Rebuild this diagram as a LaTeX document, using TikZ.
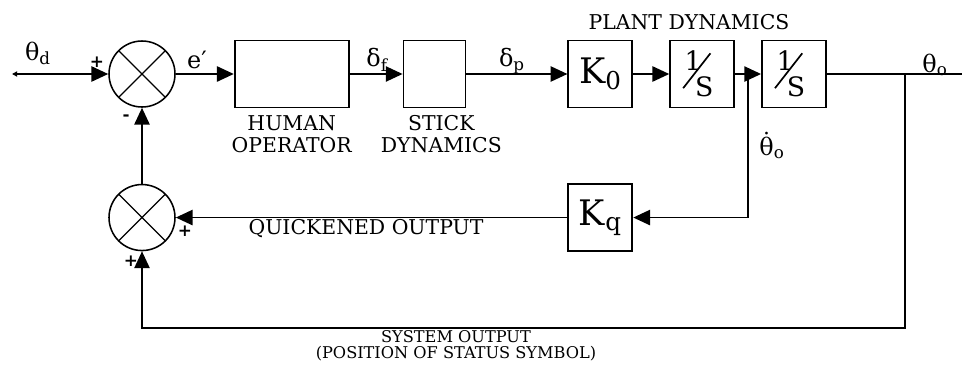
\documentclass[tikz,border=0pt]{standalone}
\usepackage{fontspec}
\setmainfont{DejaVu Serif}
\usetikzlibrary{calc, arrows.meta, positioning}

% 1/S with a long slash
\newcommand{\intS}{\rlap{\rotatebox{52}{\rule{31.5pt}{1.2pt}}}%
  \rlap{\kern1.6pt\raisebox{12.8pt}{1}}%
  \rlap{\kern9pt\raisebox{-5.7pt}{S}}\kern28pt}
\newcommand{\thdot}{\ooalign{θ\cr\hidewidth\raisebox{0.22em}{˙}\hidewidth\cr}}

\tikzset{
  block/.style={draw, line width=1.3pt, minimum width=1.6cm, minimum height=1.675cm, inner sep=0pt},
  sumnode/.style={draw, circle, line width=1.1pt, minimum size=1.65cm, inner sep=0pt,
    path picture={\draw[line width=0.9pt] (path picture bounding box.north west) -- (path picture bounding box.south east)
      (path picture bounding box.north east) -- (path picture bounding box.south west);}},
  caption/.style={font=\fontsize{14.5}{15.6}\selectfont, align=center, inner sep=0pt},
  sig/.style={font=\fontsize{17}{17}\selectfont, inner sep=0pt},
  pm/.style={font=\fontsize{12}{12}\selectfont\bfseries, inner sep=0pt},
}

\begin{document}
\begin{tikzpicture}[line width=1.3pt, >={Triangle[length=0.42cm, width=0.38cm]}]
\useasboundingbox (0,0) rectangle (24.075,-9.325);

  % forward path
  \node (sum1) [sumnode] at (3.55,-1.85) {};
  \node (hum) [block, minimum width=2.85cm, right=1.45cm of sum1] {};
  \node (stick) [block, minimum width=1.55cm, right=1.325cm of hum] {};
  \node (K0) [block, right=2.525cm of stick, font=\fontsize{25}{25}\selectfont] {K\textsubscript{0}};
  \node (int1) [block, right=0.9cm of K0, font=\fontsize{19}{19}\selectfont] {\intS};
  \node (int2) [block, right=0.65cm of int1, font=\fontsize{19}{19}\selectfont] {\intS};

  % feedback path
  \node (sum2) [sumnode, below=1.9cm of sum1] {};
  \node (Kq) [block, font=\fontsize{25}{25}\selectfont] at (K0 |- sum2) {K\textsubscript{q}};

  \coordinate (in) at (0.3,-1.85);
  \coordinate (br) at ($(int1.east)!0.5!(int2.west)$);
  \coordinate (out) at (24.05,-1.85);
  \coordinate (drop) at (22.625,-1.85);
  \coordinate (bot) at (22.625,-8.2);

  \draw[{Triangle[length=0.13cm, width=0.13cm]}->] (in) -- (sum1);
  \draw[->] (sum1) -- (hum);
  \draw[->] (hum) -- (stick);
  \draw[->] (stick) -- (K0);
  \draw[->] (K0) -- (int1);
  \draw[->] (int1) -- (int2);
  \draw (int2) -- (out);
  \draw[->] (br) |- (Kq.east);
  \draw[->] (Kq.west) -- (sum2.east);
  \draw[->] (sum2) -- (sum1);
  \draw[->] (drop) -- (bot) -| (sum2.south);

  % signals
  \node (thd) [sig] at (0.95,-1.33) {θ\textsubscript{d}};
  \node (ep) [sig] at (4.925,-1.5) {e′};
  \node (df) [sig] at (9.425,-1.5) {δ\textsubscript{f}};
  \node (dp) [sig] at (12.8,-1.52) {δ\textsubscript{p}};
  \node (tho) [sig] at (23.375,-1.62) {θ\textsubscript{o}};
  \node (thdo) [sig] at (19.3,-3.7) {\thdot\textsubscript{o}};

  % signs
  \node (p1) [pm] at (2.425,-1.55) {+};
  \node (m1) [pm] at (3.15,-2.93) {-};
  \node (p2) [pm] at (4.625,-5.775) {+};
  \node (p3) [pm] at (3.275,-6.525) {+};

  % captions
  \node (humlbl) [caption, below=0.15cm of hum] {HUMAN\\OPERATOR};
  \node (sticklbl) [caption, below=0.15cm of stick, xshift=0.17cm] {STICK\\DYNAMICS};
  \node (plantlbl) [caption] at (17.225,-0.55) {PLANT DYNAMICS};
  \node (quicklbl) [caption] at (9.15,-5.72) {QUICKENED OUTPUT};
  \node (syslbl) [caption, font=\fontsize{11.5}{11.6}\selectfont] at (11.4,-8.65) {SYSTEM OUTPUT\\(POSITION OF STATUS SYMBOL)};
\end{tikzpicture}
\end{document}
